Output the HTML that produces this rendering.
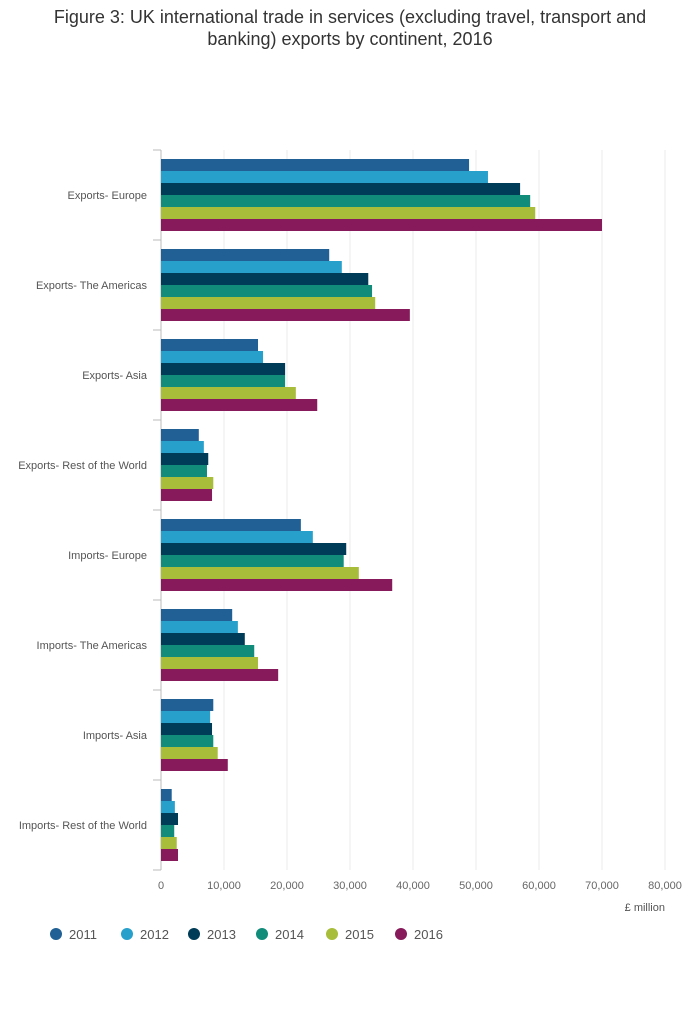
<!DOCTYPE html>
<html><head><meta charset="utf-8"><style>
body{margin:0;background:#fff;font-family:"Liberation Sans",sans-serif;}
#title{position:absolute;left:0;top:6px;width:700px;text-align:center;font-size:18px;line-height:22px;color:#333;}
</style></head><body>
<div id="title">Figure 3: UK international trade in services (excluding travel, transport and<br>banking) exports by continent, 2016</div>
<svg id="chart" width="700" height="1020" style="position:absolute;left:0;top:0" xmlns="http://www.w3.org/2000/svg"></svg>
<script>
const categories=["Exports- Europe","Exports- The Americas","Exports- Asia","Exports- Rest of the World","Imports- Europe","Imports- The Americas","Imports- Asia","Imports- Rest of the World"];
const years=["2011","2012","2013","2014","2015","2016"];
const s2011=[48900,26700,15400,6000,22200,11300,8300,1700];
const s2012=[51900,28700,16200,6800,24100,12200,7800,2200];
const s2013=[57000,32900,19700,7500,29400,13300,8100,2700];
const s2014=[58600,33500,19700,7300,29000,14800,8300,2100];
const s2015=[59400,34000,21400,8300,31400,15400,9000,2500];
const s2016=[70000,39500,24800,8100,36700,18600,10600,2700];
const ticks=[0,10000,20000,30000,40000,50000,60000,70000,80000];
const colors=["#206095","#27a0cc","#003c57","#118c7b","#a8bd3a","#871a5b"];
const series=[s2011,s2012,s2013,s2014,s2015,s2016];
const svg=document.getElementById('chart');const NS="http://www.w3.org/2000/svg";
const x0=161,x1=665,yTop=150,band=90,barH=12;
const xs=v=>x0+(v/80000)*(x1-x0);
function el(t,a,txt){const e=document.createElementNS(NS,t);for(const k in a)e.setAttribute(k,a[k]);if(txt!==undefined)e.textContent=txt;svg.appendChild(e);return e;}
ticks.forEach(t=>{
 const g=el('line',{x1:xs(t),x2:xs(t),y1:yTop,y2:yTop+band*categories.length,stroke:t===0?'#bbb':'#ebebeb','stroke-width':1});
 
 
 const l=el('text',{x:xs(t),y:889,'text-anchor':'middle','font-size':11,fill:'#666'},t.toLocaleString('en-US'));
 
 
});
for(let i=0;i<=categories.length;i++){
 const tk=el('line',{x1:153,x2:161,y1:yTop+i*band,y2:yTop+i*band,stroke:'#bbb'});
 
 
}
categories.forEach((c,i)=>{
 const l=el('text',{x:147,y:yTop+i*band+band/2+4,'text-anchor':'end','font-size':11,fill:'#555'},c);
 
 
 series.forEach((s,j)=>{
  const r=el('rect',{x:x0,y:yTop+i*band+9+j*barH,width:xs(s[i])-x0,height:barH,fill:colors[j]});
  
  
 });
});
const u=el('text',{x:665,y:911,'text-anchor':'end','font-size':11,fill:'#555'},'£ million');


const lx=[56,127,194,262,332,401];
years.forEach((y,j)=>{
 const c=el('circle',{cx:lx[j],cy:934,r:6,fill:colors[j]});
 
 
 const t=el('text',{x:lx[j]+13,y:939,'font-size':13,fill:'#555'},y);
 
 
});
</script>
</body></html>
